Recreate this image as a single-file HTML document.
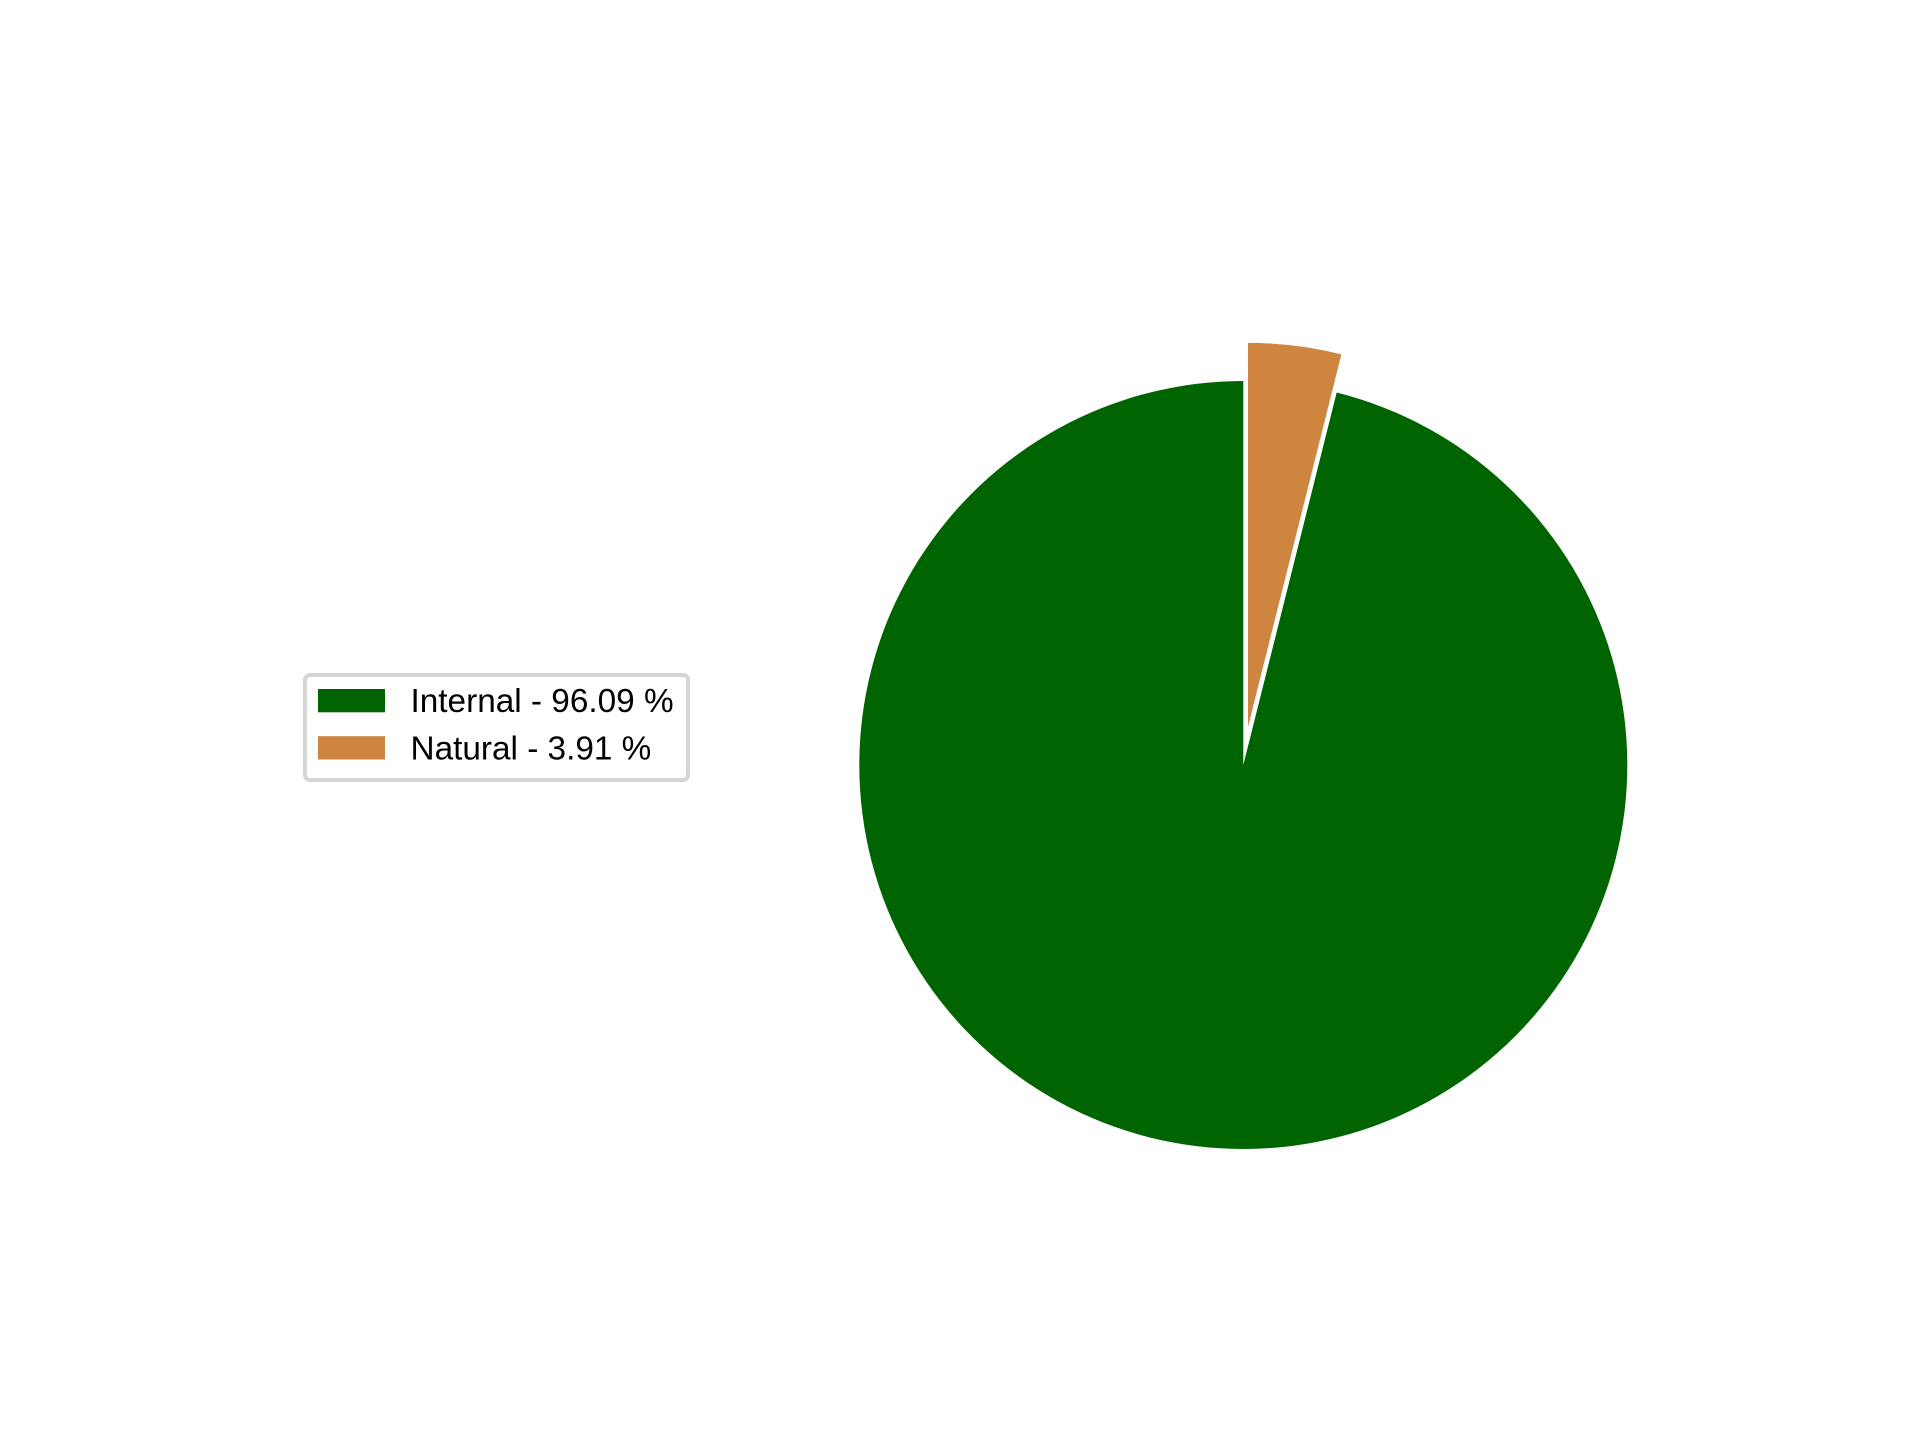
<!DOCTYPE html>
<html lang="en">
<head>
<meta charset="utf-8">
<title>Internal vs Natural pie chart</title>
<style>
html,body{margin:0;padding:0;background:#fff;width:1920px;height:1440px;overflow:hidden}
svg{display:block}
text{font-family:"Liberation Sans",Arial,sans-serif;fill:#000}
</style>
</head>
<body>
<svg id="chart" xmlns="http://www.w3.org/2000/svg" width="1920" height="1440" viewBox="0 0 1920 1440">
<rect x="0" y="0" width="1920" height="1440" fill="#ffffff"/>
<g id="slices"></g>
<g id="legend">
<rect x="305" y="675" width="383" height="105" rx="5" ry="5" fill="#ffffff" stroke="#d5d5d5" stroke-width="4"/>
</g>
</svg>
<script>
const categories = ['Internal', 'Natural'];
const shares = [96.09, 3.91];
const explodeFractions = [0, 0.1];
const sliceColors = ['#006400', '#cd853f'];

const svgNS = 'http://www.w3.org/2000/svg';
const centerX = 1243.3;
const centerY = 765;
const radius = 384;
const startAngle = 90;
const total = shares.reduce(function (a, b) { return a + b; }, 0);

function angleToRad(deg) { return deg * Math.PI / 180; }
function polarX(cx, deg, r) { return cx + r * Math.cos(angleToRad(deg)); }
function polarY(cy, deg, r) { return cy - r * Math.sin(angleToRad(deg)); }

const slices = document.getElementById('slices');
let current = startAngle;
shares.forEach(function (value, i) {
  const sweep = value / total * 360;
  const mid = current + sweep / 2;
  const off = explodeFractions[i] * radius;
  const cx = polarX(centerX, mid, off);
  const cy = polarY(centerY, mid, off);
  const x1 = polarX(cx, current, radius);
  const y1 = polarY(cy, current, radius);
  const x2 = polarX(cx, current + sweep, radius);
  const y2 = polarY(cy, current + sweep, radius);
  const large = sweep > 180 ? 1 : 0;
  const path = document.createElementNS(svgNS, 'path');
  path.setAttribute('d', 'M' + cx + ' ' + cy + ' L' + x1 + ' ' + y1 + ' A' + radius + ' ' + radius + ' 0 ' + large + ' 0 ' + x2 + ' ' + y2 + ' Z');
  path.setAttribute('fill', sliceColors[i]);
  
  
  slices.appendChild(path);
  current += sweep;
});

const legend = document.getElementById('legend');
categories.forEach(function (name, i) {
  const rowY = 689 + i * 47.2;
  const swatch = document.createElementNS(svgNS, 'rect');
  swatch.setAttribute('x', 318);
  swatch.setAttribute('y', rowY);
  swatch.setAttribute('width', 67);
  swatch.setAttribute('height', 23.3);
  swatch.setAttribute('fill', sliceColors[i]);
  
  
  legend.appendChild(swatch);
  const label = document.createElementNS(svgNS, 'text');
  label.setAttribute('x', 410.5);
  label.setAttribute('y', 711.8 + i * 47.8);
  label.setAttribute('font-size', 33.33);
  
  
  label.textContent = name + ' - ' + shares[i].toFixed(2) + ' %';
  legend.appendChild(label);
});
</script>
</body>
</html>
